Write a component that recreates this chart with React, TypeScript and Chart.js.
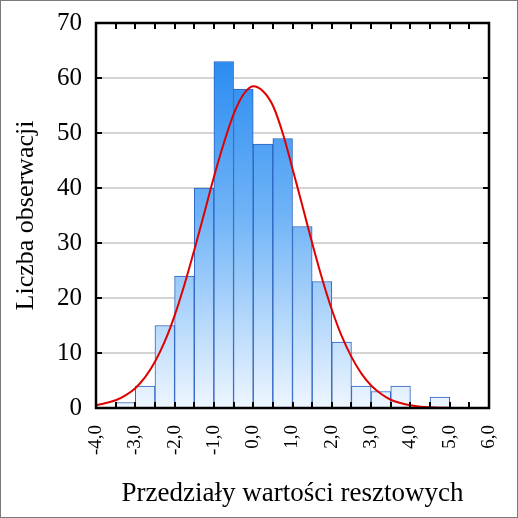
import React, { useEffect, useRef } from "react";
import { Chart, registerables } from "chart.js";

Chart.register(...registerables);

// Histogram bins (lower edges, width 0.5) and counts
const BIN_STARTS = [-4.0, -3.5, -3.0, -2.5, -2.0, -1.5, -1.0, -0.5, 0.0, 0.5, 1.0, 1.5, 2.0, 2.5, 3.0, 3.5, 4.0, 4.5, 5.0, 5.5];
const COUNTS = [0, 1, 4, 15, 24, 40, 63, 58, 48, 49, 33, 23, 12, 4, 3, 4, 0, 2, 0, 0];
const BIN_WIDTH = 0.5;

// Expected normal curve
const CURVE_X = [-4.0, -3.75, -3.5, -3.25, -3.0, -2.75, -2.5, -2.25, -2.0, -1.75, -1.5, -1.25, -1.0, -0.75, -0.5, -0.25, 0.0, 0.25, 0.5, 0.75, 1.0, 1.25, 1.5, 1.75, 2.0, 2.25, 2.5, 2.75, 3.0, 3.25, 3.5, 3.75, 4.0, 4.25, 4.5, 4.75, 5.0];
const CURVE_Y = [0.5, 0.9, 1.4, 2.3, 3.6, 5.6, 8.4, 12.1, 16.8, 22.4, 28.7, 35.3, 42.0, 48.1, 53.4, 57.0, 58.5, 57.6, 55.0, 50.0, 43.5, 36.8, 30.0, 23.6, 17.9, 13.1, 9.3, 6.3, 4.1, 2.6, 1.5, 0.9, 0.5, 0.25, 0.12, 0.05, 0.02];

const X_MIN = -4;
const X_MAX = 6;
const Y_MIN = 0;
const Y_MAX = 70;
const Y_STEP = 10;
const X_STEP = 1;
const X_MINOR_STEP = 0.5;

const X_TITLE = "Przedziały wartości resztowych";
const Y_TITLE = "Liczba obserwacji";

const SERIF = "'Liberation Serif', 'Times New Roman', 'DejaVu Serif', serif";

const framePlugin = {
  id: "frameTicks",
  afterDraw(chart: any) {
    const { ctx, chartArea, scales } = chart;
    const xs = scales.x;
    const ys = scales.y;
    const { left, right, top, bottom } = chartArea;
    ctx.save();
    // outer gray border
    ctx.strokeStyle = "#7a7a7a";
    ctx.lineWidth = 1;
    ctx.strokeRect(0.5, 0.5, chart.width - 1, chart.height - 1);
    // plot frame
    ctx.strokeStyle = "#000";
    ctx.lineWidth = 2.5;
    ctx.strokeRect(left, top, right - left, bottom - top);
    // inward ticks
    ctx.lineWidth = 2;
    const tl = 6;
    ctx.beginPath();
    for (let v = X_MIN; v <= X_MAX + 1e-9; v += X_MINOR_STEP) {
      const px = Math.round(xs.getPixelForValue(v));
      ctx.moveTo(px, bottom);
      ctx.lineTo(px, bottom - tl);
      ctx.moveTo(px, top);
      ctx.lineTo(px, top + tl);
    }
    for (let v = Y_MIN; v <= Y_MAX + 1e-9; v += Y_STEP) {
      const py = Math.round(ys.getPixelForValue(v));
      ctx.moveTo(left, py);
      ctx.lineTo(left + tl, py);
      ctx.moveTo(right, py);
      ctx.lineTo(right - tl, py);
    }
    ctx.stroke();
    ctx.restore();
  },
};

let gradCache: any = null;
function barFill(context: any) {
  const chart = context.chart;
  const area = chart.chartArea;
  if (!area) return "#6cb2f7";
  const key = area.top + "_" + area.bottom;
  if (gradCache && gradCache.key === key) return gradCache.g;
  const g = chart.ctx.createLinearGradient(0, area.top, 0, area.bottom);
  g.addColorStop(0, "#1a82ef");
  g.addColorStop(0.5, "#70b4f7");
  g.addColorStop(1, "#eef6ff");
  gradCache = { key, g };
  return g;
}

export default function App() {
  const canvasRef = useRef<HTMLCanvasElement | null>(null);

  useEffect(() => {
    document.body.style.margin = "0";
    const canvas = canvasRef.current;
    if (!canvas) return;
    gradCache = null;
    const barData = BIN_STARTS.map((s, i) => ({ x: s + BIN_WIDTH / 2, y: COUNTS[i] }));
    const curveData = CURVE_X.map((x, i) => ({ x, y: CURVE_Y[i] }));

    const chart = new Chart(canvas, {
      type: "bar",
      data: {
        datasets: [
          {
            type: "line",
            data: curveData,
            borderColor: "#e00000",
            borderWidth: 2,
            pointRadius: 0,
            tension: 0.4,
            cubicInterpolationMode: "monotone",
            fill: false,
            order: 0,
          } as any,
          {
            type: "bar",
            data: barData,
            backgroundColor: barFill,
            borderColor: "#2a62c0",
            borderWidth: 1,
            barPercentage: 1,
            categoryPercentage: 1,
            order: 1,
          } as any,
        ],
      },
      options: {
        responsive: false,
        maintainAspectRatio: false,
        animation: false,
        layout: { padding: { top: 23, right: 29, left: 0, bottom: 0 } },
        plugins: { legend: { display: false }, tooltip: { enabled: false } },
        scales: {
          x: {
            type: "linear",
            min: X_MIN,
            max: X_MAX,
            offset: false,
            grid: { display: false, drawTicks: false, offset: false },
            border: { display: false },
            ticks: {
              stepSize: X_STEP,
              autoSkip: false,
              maxRotation: 90,
              minRotation: 90,
              padding: 17,
              color: "#000",
              font: { family: SERIF, size: 19 },
              callback: (v: any) => Number(v).toFixed(1).replace(".", ","),
            },
            title: {
              display: true,
              text: X_TITLE,
              color: "#000",
              font: { family: SERIF, size: 27 },
              padding: { top: 0, bottom: 8 },
            },
            afterFit: (scale: any) => {
              scale.height = 110;
              scale.paddingLeft = 0;
              scale.paddingRight = 0;
            },
          },
          y: {
            type: "linear",
            min: Y_MIN,
            max: Y_MAX,
            grid: { color: "#d4d4d4", lineWidth: 2, drawTicks: false },
            border: { display: false },
            ticks: {
              stepSize: Y_STEP,
              padding: 14,
              color: "#000",
              font: { family: SERIF, size: 25 },
            },
            title: {
              display: true,
              text: Y_TITLE,
              color: "#000",
              font: { family: SERIF, size: 26 },
              padding: { top: 11, bottom: 0 },
            },
            afterFit: (scale: any) => {
              scale.width = 96;
              scale.paddingTop = 0;
              scale.paddingBottom = 0;
            },
          },
        },
      },
      plugins: [framePlugin],
    } as any);

    return () => {
      chart.destroy();
    };
  }, []);

  return (
    <div style={{ width: 518, height: 518, position: "relative" }}>
      <canvas ref={canvasRef} width={518} height={518} style={{ display: "block", width: 518, height: 518 }} />
    </div>
  );
}
